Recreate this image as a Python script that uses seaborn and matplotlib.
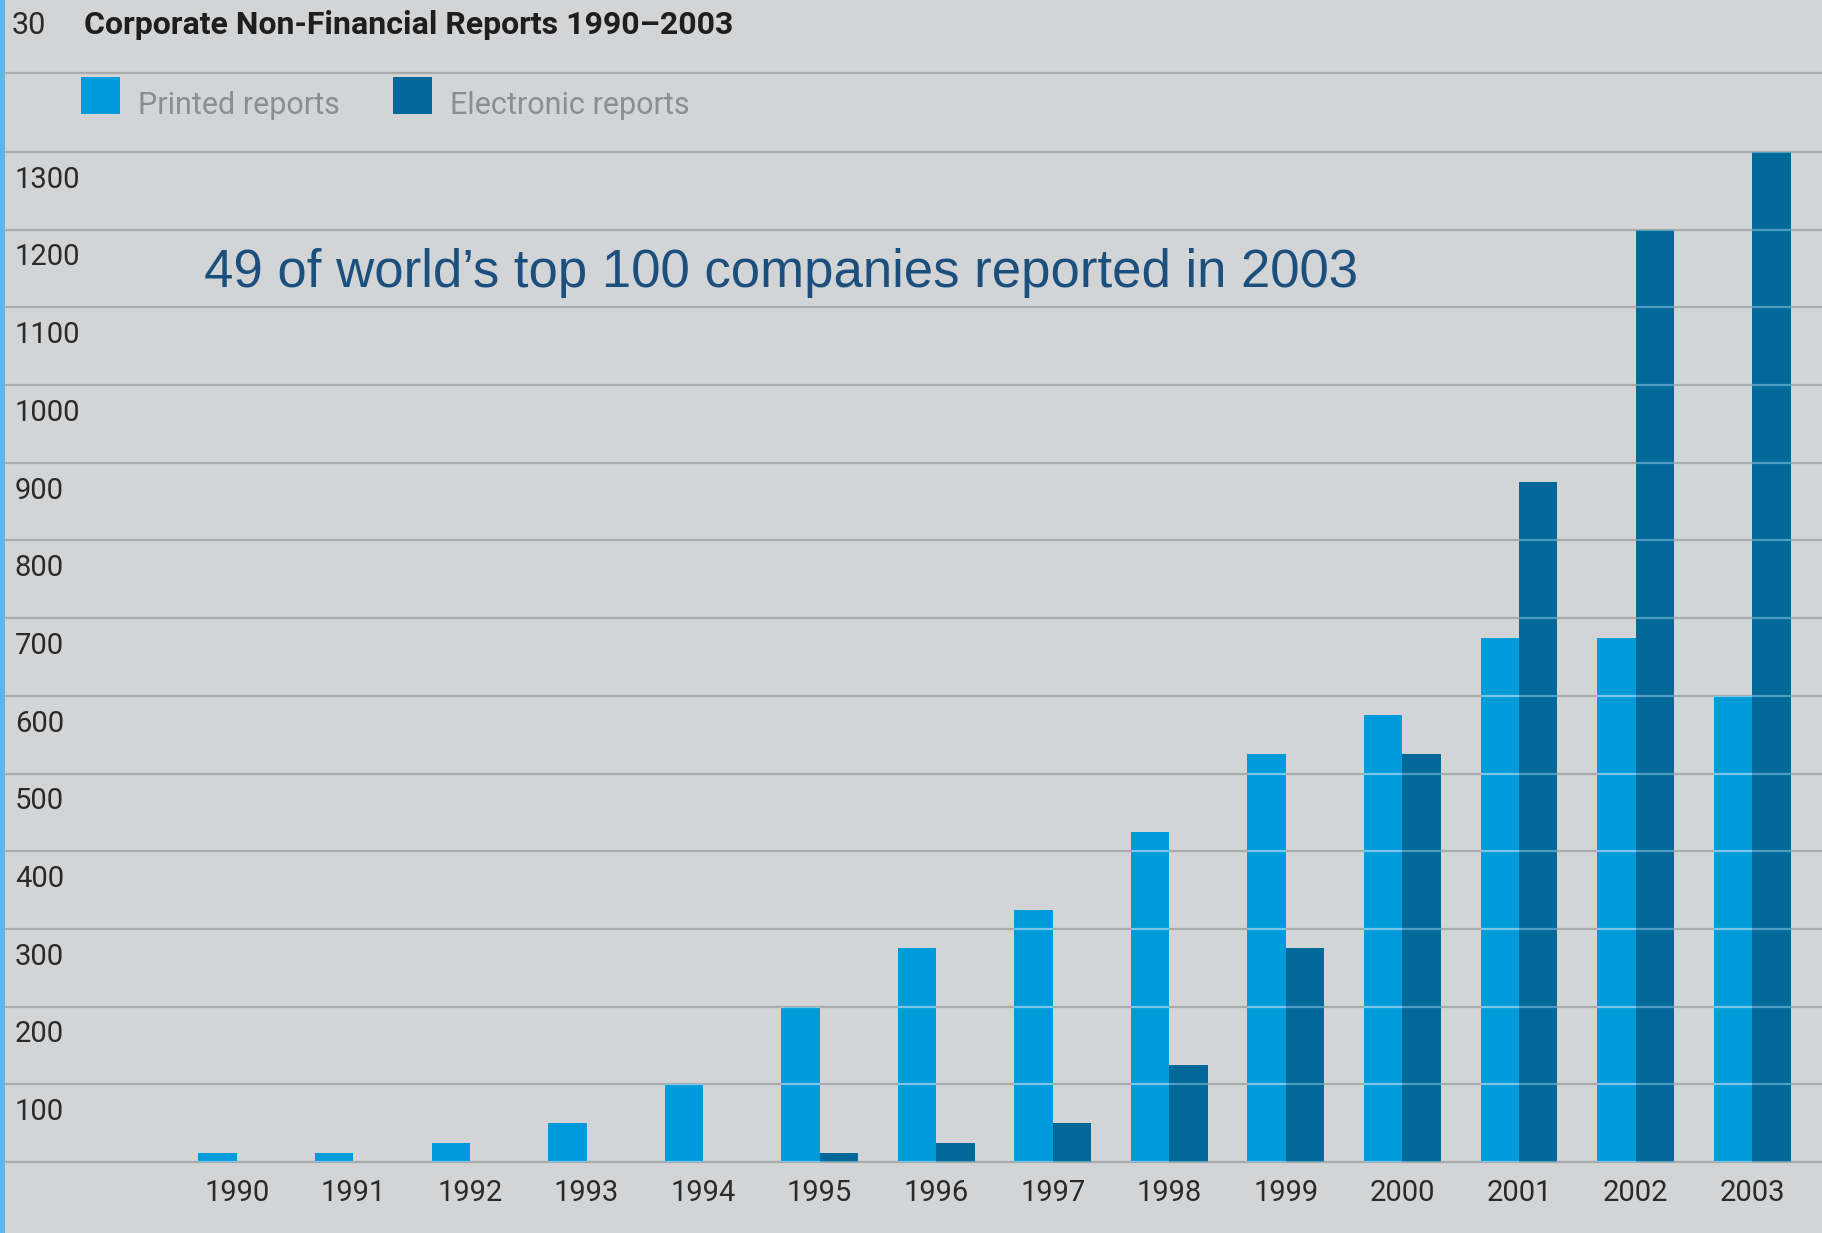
import numpy as np
import pandas as pd
import matplotlib
matplotlib.use("Agg")
import matplotlib.pyplot as plt
from matplotlib.patches import Rectangle
from matplotlib.lines import Line2D
import seaborn as sns

# ---- data ----
years = ["1990", "1991", "1992", "1993", "1994", "1995", "1996",
         "1997", "1998", "1999", "2000", "2001", "2002", "2003"]
printed = [12, 12, 25, 50, 100, 200, 275, 325, 425, 525, 575, 675, 675, 600]
electronic = [0, 0, 0, 0, 0, 12, 25, 50, 125, 275, 525, 875, 1200, 1300]
series_names = ["Printed reports", "Electronic reports"]
y_tick_values = [100, 200, 300, 400, 500, 600, 700, 800, 900, 1000, 1100, 1200, 1300]

title_num = "30"
title_text = "Corporate Non-Financial Reports 1990\u20132003"
note_text = "49 of world\u2019s top 100 companies reported in 2003"

# ---- styling ----
BG = "#d3d4d6"
GRID = "#a9aaac"
C_PRINT = "#009bda"
C_ELEC = "#00699a"
NARROW = ["Roboto", "DejaVu Sans"]

sns.set_theme(style="white", rc={"axes.facecolor": BG, "figure.facecolor": BG})
plt.rcParams["font.family"] = NARROW

W, H = 1822, 1233
fig = plt.figure(figsize=(W / 100, H / 100), dpi=100)
fig.patch.set_facecolor(BG)

def fx(px):
    return px / W

def fy(py):
    return 1 - py / H

ax = fig.add_axes([fx(5), fy(1162), 1 - fx(5), fy(152) - fy(1162)])
ax.set_facecolor(BG)

df = pd.DataFrame({
    "year": years * 2,
    "type": [series_names[0]] * len(years) + [series_names[1]] * len(years),
    "value": printed + electronic,
})

sns.barplot(data=df, x="year", y="value", hue="type", hue_order=series_names,
            order=years, palette=[C_PRINT, C_ELEC], width=0.66, gap=0,
            saturation=1, legend=False, ax=ax, zorder=2, linewidth=0)

ax.set_ylim(0, 1300)
ax.set_xlim(-1.99, 13.6)
for s in ax.spines.values():
    s.set_visible(False)
ax.set_xlabel("")
ax.set_ylabel("")
ax.set_yticks([])
ax.tick_params(axis="x", length=0, pad=12, labelsize=21, labelcolor="#2a2a2a")
for lbl in ax.get_xticklabels():
    lbl.set_fontfamily(NARROW)

# gridlines: grey on background, light over bars
grid_levels = [0] + y_tick_values
for v in grid_levels:
    ax.axhline(v, color=GRID, lw=1.6, zorder=1, clip_on=False)
bars = [p for p in ax.patches if p.get_height() > 0]
for p in bars:
    for v in grid_levels:
        ln = ax.axhline(v, color="#7cc6ec" if p.get_facecolor()[2] > 0.8 else "#4f9cc0",
                        lw=1.6, zorder=3, clip_on=True)
        ln.set_clip_path(p)

# y labels sit just below each gridline
for v in y_tick_values:
    ax.annotate(str(v), xy=(0, v), xycoords=("axes fraction", "data"),
                xytext=(7, -20), textcoords="offset points",
                ha="left", va="center", fontsize=21, color="#2a2a2a",
                family=NARROW)

# header
fig.add_artist(Line2D([fx(5), 1], [fy(73), fy(73)], color=GRID, lw=1.6))
fig.text(fx(12), fy(25), title_num, fontsize=22, color="#2a2a2a",
         ha="left", va="center", family=NARROW)
fig.text(fx(84), fy(25), title_text, fontsize=23, color="#1e1e1e",
         fontweight="bold", ha="left", va="center", family=NARROW)

# legend
for x0, col, name, tx in [(81, C_PRINT, series_names[0], 138),
                          (393, C_ELEC, series_names[1], 450)]:
    fig.add_artist(Rectangle((fx(x0), fy(114)), fx(39), fy(77) - fy(114),
                             transform=fig.transFigure, color=col, lw=0))
    fig.text(fx(tx), fy(106), name, fontsize=22, color="#8c8d8f",
             ha="left", va="center", family=NARROW)

# annotation
fig.text(fx(204), fy(273), note_text, fontsize=38, color="#1b4f7d",
         ha="left", va="center", family=["Liberation Sans", "DejaVu Sans"])

# left accent strip
fig.add_artist(Rectangle((0, 0), fx(5), 1, transform=fig.transFigure,
                         color="#5db6ea", lw=0))

fig.savefig("out.png", dpi=100, facecolor=BG)
